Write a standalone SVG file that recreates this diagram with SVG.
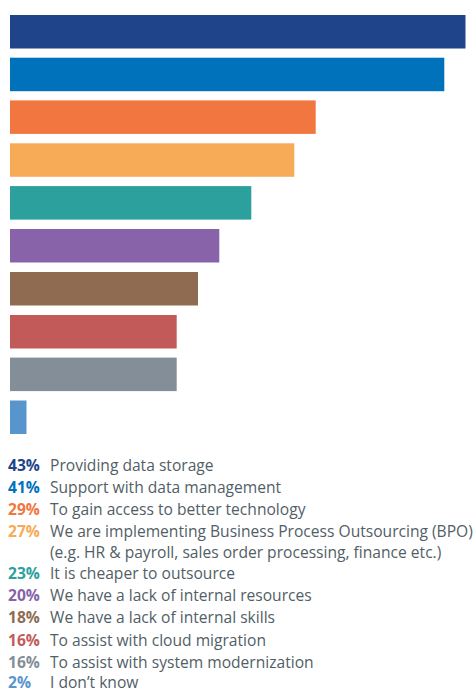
<svg xmlns="http://www.w3.org/2000/svg" width="475" height="693" viewBox="0 0 475 693">
<style>
text{font-family:"Open Sans","Noto Sans","Liberation Sans",sans-serif;font-size:15.6px}
.p{font-weight:700}
.l{fill:#525e66}
</style>
<rect width="475" height="693" fill="#fff"/>
<g id="bars">
<rect id="b1" x="10" y="15" width="455.5" height="33.5" fill="#1f4489"/>
<rect id="b2" x="10" y="57.7" width="434.3" height="33.5" fill="#0071bb"/>
<rect id="b3" x="10" y="100.4" width="305.7" height="33.5" fill="#f2763f"/>
<rect id="b4" x="10" y="143.3" width="284.3" height="33.5" fill="#f7ab57"/>
<rect id="b5" x="10" y="186.1" width="241.3" height="33.5" fill="#2ca09d"/>
<rect id="b6" x="10" y="229" width="209.3" height="33.5" fill="#8963aa"/>
<rect id="b7" x="10" y="272" width="188" height="33.5" fill="#8f6c51"/>
<rect id="b8" x="10" y="315" width="166.7" height="33.5" fill="#c35a5a"/>
<rect id="b9" x="10" y="357.6" width="166.7" height="33.5" fill="#838e98"/>
<rect id="b10" x="10" y="400.5" width="16.5" height="33.5" fill="#5995cd"/>
</g>
<g id="legend">
<text x="8" y="471"><tspan class="p" fill="#1f4489">43%</tspan><tspan class="l" x="50">Providing data storage</tspan></text>
<text x="8" y="493"><tspan class="p" fill="#0071bb">41%</tspan><tspan class="l" x="50">Support with data management</tspan></text>
<text x="8" y="515"><tspan class="p" fill="#f2763f">29%</tspan><tspan class="l" x="50">To gain access to better technology</tspan></text>
<text x="8" y="537.3"><tspan class="p" fill="#f7ab57">27%</tspan><tspan class="l" x="50">We are implementing Business Process Outsourcing (BPO)</tspan></text>
<text x="50" y="558" class="l">(e.g. HR &amp; payroll, sales order processing, finance etc.)</text>
<text x="8" y="578.5"><tspan class="p" fill="#2ca09d">23%</tspan><tspan class="l" x="50">It is cheaper to outsource</tspan></text>
<text x="8" y="601"><tspan class="p" fill="#8963aa">20%</tspan><tspan class="l" x="50">We have a lack of internal resources</tspan></text>
<text x="8" y="623"><tspan class="p" fill="#8f6c51">18%</tspan><tspan class="l" x="50">We have a lack of internal skills</tspan></text>
<text x="8" y="645.5"><tspan class="p" fill="#c35a5a">16%</tspan><tspan class="l" x="50">To assist with cloud migration</tspan></text>
<text x="8" y="668"><tspan class="p" fill="#838e98">16%</tspan><tspan class="l" x="50">To assist with system modernization</tspan></text>
<text x="8" y="688"><tspan class="p" fill="#5995cd">2%</tspan><tspan class="l" x="50">I don’t know</tspan></text>
</g>
</svg>
